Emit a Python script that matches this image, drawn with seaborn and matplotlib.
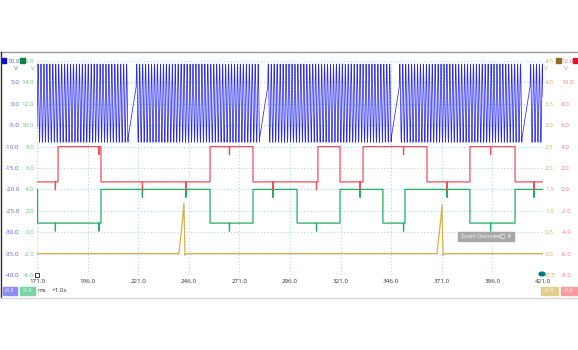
import numpy as np
import pandas as pd
import matplotlib
matplotlib.use("Agg")
import matplotlib.pyplot as plt
import seaborn as sns
from matplotlib.patches import Rectangle, Circle

sns.set_theme(style="white")
plt.rcParams['font.family'] = ['Open Sans', 'DejaVu Sans']

# ---- axes ranges and tick labels -------------------------------------------
x_ticks = [171.0, 196.0, 221.0, 246.0, 271.0, 296.0, 321.0, 346.0, 371.0, 396.0, 421.0]
blue_ticks = [-40.0, -35.0, -30.0, -25.0, -20.0, -15.0, -10.0, -5.0, 0.0, 5.0, 10.0]
green_ticks = [-4.0, -2.0, 0.0, 2.0, 4.0, 6.0, 8.0, 10.0, 12.0, 14.0, 16.0]
yellow_ticks = [-0.5, 0.0, 0.5, 1.0, 1.5, 2.0, 2.5, 3.0, 3.5, 4.0, 4.5]
red_ticks = [-8.0, -6.0, -4.0, -2.0, 0.0, 2.0, 4.0, 6.0, 8.0, 10.0, 12.0]

# ---- channel A: crank sensor (V) -------------------------------------------
crank_gap_start_ms = [216.0, 281.0, 346.0, 410.6]
crank_rev_ms = 64.8
crank_tooth_ms = 1.45
crank_gap_len_ms = 4.0
crank_peak_v = 9.3
crank_trough_v = -9.0
crank_gap_low_v = -8.0
crank_gap_high_v = 4.0

# ---- channel B: cam sensor 1 (V) -------------------------------------------
cam1_edges_ms = [181.4, 202.6, 256.5, 277.7, 309.8, 320.7, 332.1, 363.7, 384.9, 407.2]
cam1_first_state = 0
cam1_levels_v = [0.7, 4.0]

# ---- channel C: cam sensor 2 (V) -------------------------------------------
cam2_edges_ms = [171.3, 202.6, 256.5, 277.7, 299.5, 320.7, 341.9, 352.8, 384.9, 407.2]
cam2_first_state = 1
cam2_levels_v = [0.85, 4.0]

# short interference dips shared by both cam channels
glitch_ms = [180.1, 201.6, 223.1, 244.6, 266.1, 287.6, 309.1, 330.6, 352.1, 373.6, 395.1, 416.6]
glitch_depth_v = 0.75

# ---- channel D: ignition reference (V) ------------------------------------
pulse_peak_ms = [243.6, 371.1]
pulse_peak_v = [1.18, 1.14]
pulse_rise_ms = 2.5
pulse_base_v = 0.0

T0, T1 = x_ticks[0], x_ticks[-1]


def crank_trace():
    starts = [crank_gap_start_ms[0] - crank_rev_ms] + crank_gap_start_ms + [crank_gap_start_ms[-1] + crank_rev_ms]
    mid = (crank_peak_v + crank_trough_v) / 2
    amp = (crank_peak_v - crank_trough_v) / 2
    phi0 = np.arcsin((crank_gap_high_v - mid) / amp)
    ts, vs = [], []
    for g0, g1 in zip(starts[:-1], starts[1:]):
        # ramp through the missing teeth
        ts += [g0, g0 + crank_gap_len_ms]
        vs += [crank_gap_low_v, crank_gap_high_v]
        a = g0 + crank_gap_len_ms
        span = g1 - a
        n_cyc = round(span / crank_tooth_ms)
        phi_end = -np.pi / 2 + 2 * np.pi * n_cyc
        tt = np.linspace(a, g1, int(span / 0.03))[1:-1]
        ph = phi0 + (phi_end - phi0) * (tt - a) / span
        ts += list(tt)
        vs += list(mid + amp * np.sin(ph))
    ts, vs = np.array(ts), np.array(vs)
    keep = (ts >= T0 - 1) & (ts <= T1 + 1)
    return pd.DataFrame({"t": ts[keep], "v": vs[keep]})


def step_trace(edges, first_state, levels):
    state = first_state
    ts, vs = [T0 - 1], [levels[state]]
    for e in edges:
        ts += [e, e]
        vs += [levels[state], levels[1 - state]]
        state = 1 - state
    ts.append(T1 + 1)
    vs.append(levels[state])
    # insert the narrow dips
    t_arr = np.array(ts)
    v_arr = np.array(vs)
    out_t, out_v = list(t_arr), list(v_arr)
    for g in glitch_ms:
        lvl = np.interp(g, t_arr, v_arr)
        out_t += [g - 0.05, g, g + 0.05]
        out_v += [lvl, lvl - glitch_depth_v, lvl]
    df = pd.DataFrame({"t": out_t, "v": out_v})
    df["o"] = np.arange(len(df))
    df = df.sort_values(["t", "o"], kind="stable")
    return df[["t", "v"]]


def pulse_trace():
    ts, vs = [T0 - 1], [pulse_base_v]
    for tp, vp in zip(pulse_peak_ms, pulse_peak_v):
        ts += [tp - pulse_rise_ms, tp - 0.6, tp, tp + 0.5, tp + 1.2]
        vs += [pulse_base_v, vp * 0.7, vp, pulse_base_v - 0.04, pulse_base_v]
    ts.append(T1 + 1)
    vs.append(pulse_base_v)
    return pd.DataFrame({"t": ts, "v": vs})


BLUE = "#2a2af0"
RED = "#f0505a"
GREEN = "#1fae62"
YELLOW = "#d8b04a"
BLUE_LBL = "#5a5ae8"
GREEN_LBL = "#62c48a"
YELLOW_LBL = "#cfb260"
RED_LBL = "#f77a84"
GRID = "#a6d8ea"

W_PX, H_PX = 578, 350
fig = plt.figure(figsize=(W_PX / 100, H_PX / 100), dpi=100)
L, R, TOP, BOT = 37, 543, 61, 275
rect = [L / W_PX, 1 - BOT / H_PX, (R - L) / W_PX, (BOT - TOP) / H_PX]

ax_b = fig.add_axes(rect)
ax_g = ax_b.twinx()
ax_y = ax_b.twinx()
ax_r = ax_b.twinx()

for a in (ax_b, ax_g, ax_y, ax_r):
    a.set_xlim(T0, T1)
    for s in a.spines.values():
        s.set_visible(False)
    a.patch.set_visible(False)

# grid
ax_b.set_xticks(x_ticks)
ax_b.set_yticks(blue_ticks)
ax_b.set_ylim(blue_ticks[0], blue_ticks[-1])
ax_b.grid(True, color=GRID, linestyle=(0, (1, 2)), linewidth=0.8)
ax_b.set_axisbelow(True)

fs = 4.5
ax_b.set_xticklabels([f"{v:.1f}" for v in x_ticks])
ax_b.tick_params(axis="x", length=0, pad=3, labelsize=fs, labelcolor="#333333")
ax_b.set_yticklabels([f"{v:.1f}" for v in blue_ticks])
ax_b.tick_params(axis="y", length=0, pad=12.5, labelsize=fs, labelcolor=BLUE_LBL)

ax_g.set_ylim(green_ticks[0], green_ticks[-1])
ax_g.yaxis.tick_left()
ax_g.set_yticks(green_ticks)
ax_g.set_yticklabels([f"{v:.1f}" for v in green_ticks])
ax_g.tick_params(axis="y", length=0, pad=2.0, labelsize=fs, labelcolor=GREEN_LBL)

ax_y.set_ylim(yellow_ticks[0], yellow_ticks[-1])
ax_y.set_yticks(yellow_ticks)
ax_y.set_yticklabels([f"{v:.1f}" for v in yellow_ticks])
ax_y.tick_params(axis="y", length=0, pad=1.5, labelsize=fs, labelcolor=YELLOW_LBL)

ax_r.set_ylim(red_ticks[0], red_ticks[-1])
ax_r.set_yticks(red_ticks)
ax_r.set_yticklabels([f"{v:.1f}" for v in red_ticks])
ax_r.tick_params(axis="y", length=0, pad=13, labelsize=fs, labelcolor=RED_LBL)

# traces
sns.lineplot(data=crank_trace(), x="t", y="v", ax=ax_b, color=BLUE, linewidth=0.55,
             estimator=None, sort=False)
sns.lineplot(data=step_trace(cam1_edges_ms, cam1_first_state, cam1_levels_v), x="t", y="v",
             ax=ax_r, color=RED, linewidth=0.9, estimator=None, sort=False)
sns.lineplot(data=step_trace(cam2_edges_ms, cam2_first_state, cam2_levels_v), x="t", y="v",
             ax=ax_g, color=GREEN, linewidth=0.9, estimator=None, sort=False)
sns.lineplot(data=pulse_trace(), x="t", y="v", ax=ax_y, color=YELLOW, linewidth=0.9,
             estimator=None, sort=False)

for a in (ax_b, ax_g, ax_y, ax_r):
    a.set_xlabel("")
    a.set_ylabel("")
    a.set_xlim(T0, T1)


def px(x, y):
    return x / W_PX, 1 - y / H_PX


# window frame
fig.add_artist(plt.Line2D([0, 1], [1 - 52 / H_PX] * 2, color="#9a9a9a", linewidth=1.0))
fig.add_artist(plt.Line2D([0.5 / W_PX] * 2, [1 - 52 / H_PX, 1 - 298 / H_PX], color="#303030", linewidth=1.0))
fig.add_artist(plt.Line2D([0, 1], [1 - 298 / H_PX] * 2, color="#d8d8d8", linewidth=1.0))

# channel header swatches and units
for x0, col in [(1.5, "#1010d0"), (20, "#108040"), (556, "#8a7020"), (572.5, "#e01030")]:
    fig.add_artist(Rectangle(px(x0, 63), 4.5 / W_PX, 4.5 / H_PX, color=col, transform=fig.transFigure))
for x0, col in [(16, BLUE_LBL), (33, GREEN_LBL), (546, YELLOW_LBL), (566, RED_LBL)]:
    fig.text(*px(x0, 69), "V", color=col, fontsize=fs, ha="center", va="center")

# zoom overview tab
zx0, zy0, zx1, zy1 = 458, 232, 514, 241
fig.add_artist(Rectangle(px(zx0, zy1), (zx1 - zx0) / W_PX, (zy1 - zy0) / H_PX,
                         color="#a8a8a8", transform=fig.transFigure))
fig.text(*px(461, 236.5), "Zoom Overview", color="white", fontsize=4, ha="left", va="center")
fig.text(*px(506, 236.5), "□ ✕", color="white", fontsize=4, ha="center", va="center",
         family=["DejaVu Sans"])

# ruler handles
fig.add_artist(Rectangle(px(35, 277), 4 / W_PX, 4 / H_PX, facecolor="white", edgecolor="#202020",
                         linewidth=0.6, transform=fig.transFigure))
fig.add_artist(Circle(px(542, 274), 3 / W_PX, color="#007a7a", transform=fig.transFigure))

# bottom scale buttons
for x0, x1, col in [(3, 17, "#8c8cf6"), (20, 35, "#78d4a2"), (541, 558, "#e2cf8e"), (561, 577, "#f89a9e")]:
    fig.add_artist(Rectangle(px(x0, 295), (x1 - x0) / W_PX, 8 / H_PX, color=col, transform=fig.transFigure))
    fig.text(*px((x0 + x1) / 2, 291), "x1.0", color="white", fontsize=3.5, ha="center", va="center")
fig.text(*px(38, 291), "ms", color="#333333", fontsize=fs, ha="left", va="center")
fig.text(*px(52, 291), "+1.0s", color="#333333", fontsize=fs, ha="left", va="center")

fig.savefig("out.png", dpi=100)
